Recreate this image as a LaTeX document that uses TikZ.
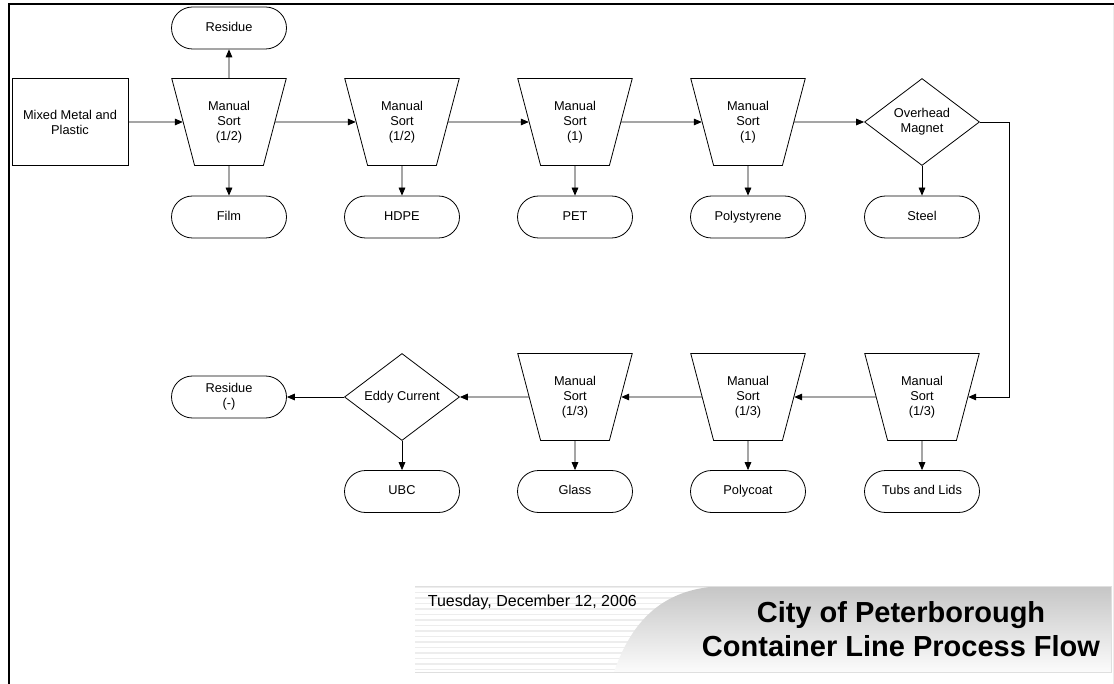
\documentclass[tikz,border=0pt]{standalone}
\usepackage{fontspec}
\setmainfont{Liberation Sans}
\usetikzlibrary{shapes,arrows,arrows.meta}

\tikzset{
  procbox/.style={draw, fill=white, align=center, rectangle, minimum width=87pt, minimum height=65.25pt, inner sep=1pt},
  sortbox/.style={draw, fill=white, align=center, trapezium, shape border rotate=180, trapezium left angle=71.6, trapezium right angle=71.6, trapezium stretches=true, minimum width=86.25pt, minimum height=65.25pt, inner sep=0pt},
  testbox/.style={draw, fill=white, align=center, diamond, aspect=1.32, minimum width=86.25pt, minimum height=65.25pt, inner sep=0pt},
  endbox/.style={draw, fill=white, align=center, rectangle, rounded corners=15.75pt, minimum width=86.25pt, minimum height=31.5pt, inner sep=0pt, text height=7.2pt, text depth=2pt},
  flow/.style={->, >={Triangle[length=6pt,width=5pt]}},
}

\begin{document}
\begin{tikzpicture}[x=0.75pt, y=-0.75pt, line width=0.6pt, font=\fontsize{9.6}{11.25}\selectfont]
\useasboundingbox (0,0) rectangle (1114,684);
\draw[line width=1.5pt] (9,684) -- (9,4) -- (1114,4);
\draw[gray!15] (1113,6) -- (1113,684);

% title block
\foreach \k in {0,...,15}
  \draw[gray!14, line width=1.4pt] ({415},{587+5.5*\k}) -- ({1111},{587+5.5*\k});
\shade[top color=gray!45, bottom color=gray!3] (614,672) .. controls (632,620) and (664,587) .. (725,586) -- (1111,586) -- (1111,672) -- cycle;
\draw[gray!25, line width=0.4pt] (415,586) -- (1111,586) -- (1111,672) -- (415,672);
\node[anchor=base west, font=\fontsize{12}{14}\selectfont] (date) at (423,606.5) {Tuesday, December 12, 2006};
\node[align=center, font=\bfseries\fontsize{21.75}{25.7}\selectfont] (title) at (901,629) {City of Peterborough\\Container Line Process Flow};

% top row
\node[procbox] (mix) at (70,122) {Mixed Metal and\\Plastic};
\node[sortbox] (sorta) at (229,122) {Manual\\Sort\\(1/2)};
\node[sortbox] (sortb) at (402,122) {Manual\\Sort\\(1/2)};
\node[sortbox] (sortc) at (575,122) {Manual\\Sort\\(1)};
\node[sortbox] (sortd) at (748,122) {Manual\\Sort\\(1)};
\node[testbox] (magnet) at (922,122) {Overhead\\Magnet};
\node[endbox] (residue) at (229,28) {Residue};
\node[endbox] (film) at (229,217) {Film};
\node[endbox] (hdpe) at (402,217) {HDPE};
\node[endbox] (pet) at (575,217) {PET};
\node[endbox] (polystyrene) at (748,217) {Polystyrene};
\node[endbox] (steel) at (922,217) {Steel};

% bottom row
\node[sortbox] (sorte) at (922,397) {Manual\\Sort\\(1/3)};
\node[sortbox] (sortf) at (748,397) {Manual\\Sort\\(1/3)};
\node[sortbox] (sortg) at (575,397) {Manual\\Sort\\(1/3)};
\node[testbox] (eddy) at (402,397) {Eddy Current};
\node[endbox, text height=, text depth=] (residueb) at (229,397) {Residue\\(-)};
\node[endbox] (tubs) at (922,491.5) {Tubs and Lids};
\node[endbox] (polycoat) at (748,491.5) {Polycoat};
\node[endbox] (glass) at (575,491.5) {Glass};
\node[endbox] (ubc) at (402,491.5) {UBC};
\coordinate (bend) at (1009,122);

\draw[flow] (mix) -- (sorta);
\draw[flow] (sorta) -- (residue);
\draw[flow] (sorta) -- (film);
\draw[flow] (sorta) -- (sortb);
\draw[flow] (sortb) -- (hdpe);
\draw[flow] (sortb) -- (sortc);
\draw[flow] (sortc) -- (pet);
\draw[flow] (sortc) -- (sortd);
\draw[flow] (sortd) -- (polystyrene);
\draw[flow] (sortd) -- (magnet);
\draw[flow] (magnet) -- (steel);
\draw[flow] (magnet) -- (bend) |- (sorte);
\draw[flow] (sorte) -- (tubs);
\draw[flow] (sorte) -- (sortf);
\draw[flow] (sortf) -- (polycoat);
\draw[flow] (sortf) -- (sortg);
\draw[flow] (sortg) -- (glass);
\draw[flow] (sortg) -- (eddy);
\draw[flow] (eddy) -- (ubc);
\draw[flow] (eddy) -- (residueb);
\end{tikzpicture}
\end{document}
